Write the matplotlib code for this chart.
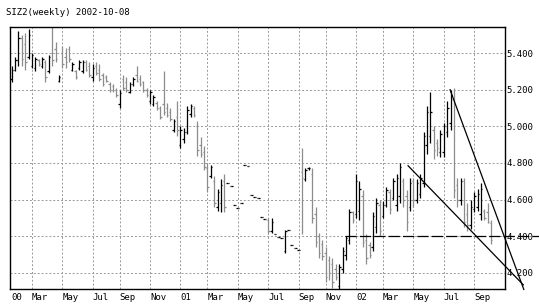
import numpy as np
import pandas as pd
import matplotlib
matplotlib.use('Agg')
import matplotlib.pyplot as plt
import matplotlib.dates as mdates

# weekly bars, SIZ2, dated on the Friday of each week
dates = pd.date_range('2000-01-21', periods=143, freq='7D')

opens = [5.26, 5.31, 5.36, 5.48, 5.45, 5.38, 5.33, 5.32, 5.36, 5.33,
         5.35, 5.30, 5.40, 5.42, 5.25, 5.40, 5.38, 5.42, 5.31, 5.30,
         5.32, 5.30, 5.35, 5.33, 5.27, 5.33, 5.31, 5.28, 5.27, 5.23,
         5.22, 5.20, 5.12, 5.26, 5.24, 5.19, 5.23, 5.28, 5.26, 5.24,
         5.20, 5.14, 5.12, 5.13, 5.10, 5.12, 5.10, 5.08, 4.98, 5.05,
         4.90, 4.93, 4.97, 5.07, 5.10, 5.00, 4.90, 4.86, 4.77, 4.73,
         4.70, 4.56, 4.58, 4.70, 4.69, 4.675, 4.57, 4.555, 4.58, 4.79,
         4.785, 4.625, 4.615, 4.61, 4.505, 4.495, 4.49, 4.43, 4.41, 4.395,
         4.39, 4.32, 4.435, 4.35, 4.335, 4.325, 4.75, 4.71, 4.77, 4.74,
         4.52, 4.40, 4.36, 4.31, 4.27, 4.25, 4.22, 4.13, 4.22, 4.30,
         4.38, 4.53, 4.52, 4.54, 4.62, 4.38, 4.35, 4.34, 4.45, 4.57,
         4.51, 4.57, 4.64, 4.61, 4.57, 4.62, 4.70, 4.62, 4.56, 4.70,
         4.60, 4.63, 4.69, 4.90, 4.95, 4.98, 4.91, 4.86, 4.86, 4.97,
         5.02, 5.15, 4.68, 4.60, 4.70, 4.52, 4.46, 4.55, 4.56, 4.52,
         4.54, 4.53, 4.47]
highs = [5.33, 5.38, 5.52, 5.50, 5.51, 5.53, 5.40, 5.38, 5.37, 5.38,
         5.36, 5.39, 5.54, 5.46, 5.28, 5.44, 5.43, 5.44, 5.35, 5.31,
         5.36, 5.36, 5.36, 5.35, 5.34, 5.35, 5.34, 5.29, 5.28, 5.24,
         5.23, 5.21, 5.20, 5.28, 5.27, 5.24, 5.27, 5.33, 5.28, 5.25,
         5.21, 5.20, 5.17, 5.14, 5.11, 5.30, 5.13, 5.10, 5.04, 5.14,
         5.00, 4.99, 5.11, 5.12, 5.11, 5.03, 4.94, 4.89, 4.80, 4.79,
         4.73, 4.66, 4.71, 4.74, 4.69, 4.675, 4.57, 4.555, 4.58, 4.79,
         4.785, 4.625, 4.615, 4.61, 4.505, 4.495, 4.50, 4.50, 4.41, 4.395,
         4.39, 4.435, 4.435, 4.35, 4.335, 4.325, 4.88, 4.77, 4.78, 4.77,
         4.56, 4.42, 4.38, 4.34, 4.29, 4.28, 4.25, 4.25, 4.34, 4.40,
         4.55, 4.54, 4.74, 4.70, 4.65, 4.41, 4.37, 4.53, 4.61, 4.60,
         4.59, 4.67, 4.66, 4.72, 4.74, 4.80, 4.72, 4.65, 4.72, 4.72,
         4.71, 4.74, 4.97, 5.11, 5.19, 5.00, 4.93, 4.98, 5.02, 5.14,
         5.20, 5.21, 4.72, 4.72, 4.72, 4.58, 4.60, 4.64, 4.66, 4.69,
         4.55, 4.58, 4.49]
lows = [5.24, 5.30, 5.33, 5.33, 5.31, 5.37, 5.32, 5.30, 5.33, 5.32,
        5.24, 5.29, 5.33, 5.35, 5.24, 5.32, 5.32, 5.35, 5.30, 5.26,
        5.31, 5.29, 5.30, 5.27, 5.25, 5.28, 5.25, 5.22, 5.24, 5.19,
        5.19, 5.16, 5.10, 5.20, 5.19, 5.18, 5.22, 5.24, 5.22, 5.19,
        5.16, 5.12, 5.11, 5.09, 5.04, 5.06, 5.05, 5.03, 4.97, 4.95,
        4.88, 4.91, 4.96, 5.05, 5.05, 4.84, 4.83, 4.76, 4.64, 4.72,
        4.56, 4.54, 4.53, 4.53, 4.69, 4.675, 4.57, 4.555, 4.58, 4.79,
        4.785, 4.625, 4.615, 4.61, 4.505, 4.495, 4.42, 4.42, 4.41, 4.395,
        4.39, 4.31, 4.435, 4.35, 4.335, 4.325, 4.41, 4.70, 4.76, 4.47,
        4.34, 4.28, 4.27, 4.15, 4.16, 4.12, 4.16, 4.11, 4.20, 4.27,
        4.36, 4.47, 4.50, 4.49, 4.34, 4.25, 4.28, 4.32, 4.42, 4.40,
        4.50, 4.56, 4.52, 4.60, 4.54, 4.58, 4.56, 4.43, 4.54, 4.56,
        4.58, 4.61, 4.67, 4.85, 4.91, 4.82, 4.84, 4.83, 4.83, 4.94,
        4.98, 4.61, 4.56, 4.57, 4.45, 4.43, 4.44, 4.53, 4.54, 4.49,
        4.49, 4.47, 4.36]
closes = [5.31, 5.36, 5.48, 5.37, 5.35, 5.50, 5.39, 5.37, 5.34, 5.37,
          5.27, 5.38, 5.36, 5.37, 5.27, 5.34, 5.35, 5.37, 5.34, 5.27,
          5.35, 5.35, 5.31, 5.28, 5.32, 5.29, 5.26, 5.23, 5.25, 5.20,
          5.20, 5.17, 5.18, 5.21, 5.20, 5.23, 5.26, 5.25, 5.23, 5.20,
          5.17, 5.19, 5.16, 5.10, 5.05, 5.08, 5.06, 5.04, 5.03, 4.98,
          4.98, 4.97, 5.09, 5.11, 5.06, 4.87, 4.85, 4.78, 4.67, 4.78,
          4.58, 4.64, 4.68, 4.56, 4.69, 4.675, 4.57, 4.555, 4.58, 4.79,
          4.785, 4.625, 4.615, 4.61, 4.505, 4.495, 4.43, 4.48, 4.41, 4.395,
          4.39, 4.43, 4.435, 4.35, 4.335, 4.325, 4.72, 4.76, 4.77, 4.50,
          4.37, 4.31, 4.29, 4.18, 4.20, 4.15, 4.18, 4.23, 4.32, 4.39,
          4.53, 4.49, 4.70, 4.66, 4.37, 4.28, 4.30, 4.51, 4.58, 4.43,
          4.57, 4.65, 4.55, 4.70, 4.72, 4.78, 4.60, 4.48, 4.69, 4.60,
          4.69, 4.72, 4.95, 5.08, 5.08, 4.87, 4.88, 4.96, 5.00, 5.10,
          5.17, 4.65, 4.60, 4.70, 4.48, 4.46, 4.56, 4.62, 4.63, 4.66,
          4.50, 4.48, 4.38]

# hand-drawn lines on the chart: (start date, price), (end date, price)
upper_line = [('2002-07-18', 5.20), ('2002-12-18', 4.11)]
lower_line = [('2002-04-22', 4.785), ('2002-12-17', 4.135)]
support = [('2001-12-12', 4.40), ('2003-01-18', 4.40)]

yticks = [4.2, 4.4, 4.6, 4.8, 5.0, 5.2, 5.4]

mono = 'DejaVu Sans Mono'
fs = 6.5

fig = plt.figure(figsize=(5.39, 3.06), dpi=100)
ax = fig.add_axes([10/539, 1 - 289/306, 495/539, 262/306])

x = mdates.date2num(dates)
o = np.array(opens)
c = np.array(closes)
col = np.where(c >= o, '#000000', '#8c8c8c')

ax.vlines(x, lows, highs, colors=col, lw=0.9)
ax.hlines(o, x - 3, x, colors=col, lw=0.9)
ax.hlines(c, x, x + 3, colors=col, lw=0.9)

for seg, ls in [(upper_line, '-'), (lower_line, '-'), (support, (0, (9, 2.5)))]:
    xs = [mdates.date2num(pd.Timestamp(d)) for d, _ in seg]
    ys = [p for _, p in seg]
    ax.plot(xs, ys, color='black', lw=0.9, ls=ls, clip_on=False)

ax.set_xlim(x[0] - 3.6, x[0] + 1023)
ax.set_ylim(4.1125, 5.542)

# month ticks: first bar of every second month, January shows the year
tick_x, tick_lab = [], []
for i, d in enumerate(dates):
    if i == 0 or (d.month % 2 == 1 and dates[i - 1].month != d.month):
        tick_x.append(x[i])
        tick_lab.append(d.strftime('%y') if d.month == 1 else d.strftime('%b'))
ax.set_xticks(tick_x)
ax.set_xticklabels(tick_lab, fontfamily=mono, fontsize=fs, ha='left')

ax.yaxis.tick_right()
ax.set_yticks(yticks)
ax.set_yticklabels(['%.3f' % v for v in yticks], fontfamily=mono, fontsize=fs)
ax.tick_params(axis='both', length=0)
ax.tick_params(axis='x', pad=3)
ax.tick_params(axis='y', pad=1)

ax.grid(True, color='#999999', lw=0.7, ls=(0, (2, 2)))
ax.set_axisbelow(True)
ax.xaxis.get_gridlines()[0].set_visible(False)
for s in ax.spines.values():
    s.set_color('black')
    s.set_linewidth(1.0)

fig.text(6/539, 1 - 12.5/306, 'SIZ2(weekly) 2002-10-08', fontfamily=mono,
         fontsize=fs, va='center', ha='left')

fig.savefig('out.png', dpi=100)
